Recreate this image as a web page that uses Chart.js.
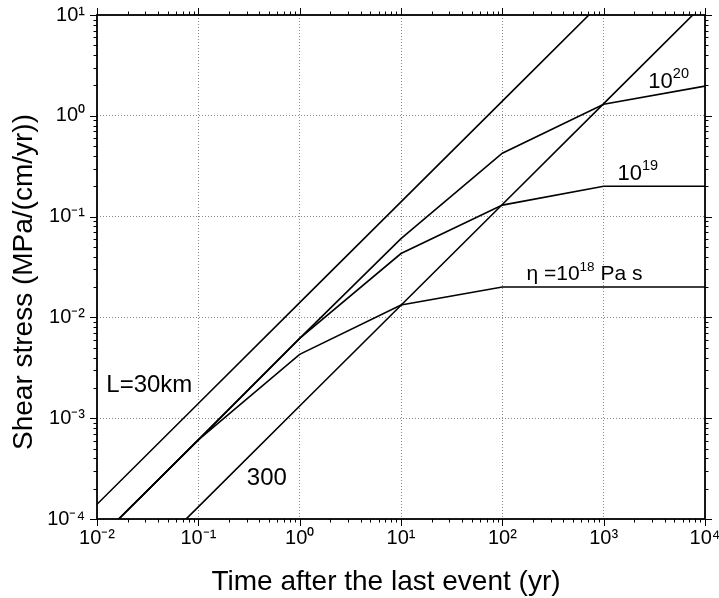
<!DOCTYPE html>
<html><head><meta charset="utf-8">
<script src="https://cdn.jsdelivr.net/npm/chart.js@4.4.0/dist/chart.umd.min.js"></script>
<style>html,body{margin:0;padding:0;background:#fff}canvas{display:block}</style>
</head><body>
<canvas id="c" width="719" height="598"></canvas>
<script>
// ---- data ----
const times       = [0.01, 0.1, 1, 10, 100, 1000, 10000];
const elasticL30  = [1.4e-4, 1.4e-3, 1.4e-2, 0.14, 1.4, 14, 140];
const elasticL300 = [1.32e-5, 1.32e-4, 1.32e-3, 1.32e-2, 0.132, 1.32, 13.2];
const eta18 = [6.1e-5, 6.1e-4, 4.3e-3, 1.33e-2, 2.0e-2, 2.0e-2, 2.0e-2];
const eta19 = [6.1e-5, 6.1e-4, 6.2e-3, 4.3e-2, 0.13, 0.2, 0.2];
const eta20 = [6.1e-5, 6.1e-4, 6.2e-3, 6.05e-2, 0.425, 1.3, 1.97];
const xTicks = [1e-2, 1e-1, 1, 1e1, 1e2, 1e3, 1e4];
const yTicks = [1e-4, 1e-3, 1e-2, 1e-1, 1, 1e1];
const xTitle = 'Time after the last event (yr)';
const yTitle = 'Shear stress (MPa/(cm/yr))';
const labelTexts = [
  {pre: 'L=30km', sup: '', post: '', t: 0.01235, v: 1.83e-3, size: 24},
  {pre: '300', sup: '', post: '', t: 0.301, v: 2.19e-4, size: 24},
  {pre: '\u03B7 =10', sup: '18', post: ' Pa s', t: 173, v: 0.0237, size: 21, supSize: 13.5, raise: 9},
  {pre: '10', sup: '19', post: '', t: 1368, v: 0.232, size: 22, supSize: 14.5, raise: 10},
  {pre: '10', sup: '20', post: '', t: 2761, v: 1.90, size: 22, supSize: 14.5, raise: 10}
];

const FONT = "'Liberation Sans', Arial, Helvetica, sans-serif";
const SUP = {'-':'\u207B','0':'\u2070','1':'\u00B9','2':'\u00B2','3':'\u00B3','4':'\u2074','5':'\u2075','6':'\u2076','7':'\u2077','8':'\u2078','9':'\u2079'};
function pow10Label(v) {
  const e = Math.round(Math.log10(v));
  return '10' + String(e).split('').map(c => SUP[c]).join('');
}
function series(ys) { return times.map((t, i) => ({x: t, y: ys[i]})); }
function ds(ys) {
  return {data: series(ys), showLine: true, borderColor: '#000', borderWidth: 1.6,
          pointRadius: 0, fill: false, tension: 0};
}
function noPad(s) { s.paddingLeft = 0; s.paddingRight = 0; s.paddingTop = 0; s.paddingBottom = 0; }

const frameTicks = {
  id: 'frameTicks',
  afterDatasetsDraw(chart) {
    const ctx = chart.ctx, a = chart.chartArea;
    const xs = chart.scales.x, ys = chart.scales.y;
    ctx.save();
    ctx.strokeStyle = '#000';
    ctx.lineWidth = 1;
    for (let d = 0; d < xTicks.length; d++) {
      const dec = xTicks[d];
      for (let k = 1; k <= 9; k++) {
        const v = dec * k;
        const p = Math.round(xs.getPixelForValue(v)) + 0.5;
        const len = k === 1 ? 7 : 3.5;
        ctx.beginPath();
        ctx.moveTo(p, a.bottom); ctx.lineTo(p, a.bottom + len);
        ctx.moveTo(p, a.top); ctx.lineTo(p, a.top - len);
        ctx.stroke();
        if (d === xTicks.length - 1) break;
      }
    }
    for (let d = 0; d < yTicks.length; d++) {
      const dec = yTicks[d];
      for (let k = 1; k <= 9; k++) {
        const v = dec * k;
        const p = Math.round(ys.getPixelForValue(v)) + 0.5;
        const len = k === 1 ? 7 : 3.5;
        ctx.beginPath();
        ctx.moveTo(a.left, p); ctx.lineTo(a.left - len, p);
        ctx.moveTo(a.right, p); ctx.lineTo(a.right + len, p);
        ctx.stroke();
        if (d === yTicks.length - 1) break;
      }
    }
    ctx.lineWidth = 1.8;
    ctx.strokeRect(a.left, a.top, a.right - a.left, a.bottom - a.top);
    ctx.fillStyle = '#000';
    ctx.textAlign = 'left';
    ctx.textBaseline = 'alphabetic';
    labelTexts.forEach(l => {
      let x = xs.getPixelForValue(l.t);
      const y = ys.getPixelForValue(l.v);
      ctx.font = l.size + 'px ' + FONT;
      ctx.fillText(l.pre, x, y);
      x += ctx.measureText(l.pre).width;
      if (l.sup) {
        ctx.font = l.supSize + 'px ' + FONT;
        ctx.fillText(l.sup, x, y - l.raise);
        x += ctx.measureText(l.sup).width;
      }
      if (l.post) {
        ctx.font = l.size + 'px ' + FONT;
        ctx.fillText(l.post, x, y);
      }
    });
    ctx.font = '28px ' + FONT;
    ctx.textAlign = 'center';
    ctx.fillText(xTitle, 386, 590);
    ctx.translate(32, 282);
    ctx.rotate(-Math.PI / 2);
    ctx.fillText(yTitle, 0, 0);
    ctx.restore();
  }
};

new Chart(document.getElementById('c'), {
  type: 'scatter',
  data: {datasets: [ds(elasticL30), ds(elasticL300), ds(eta18), ds(eta19), ds(eta20)]},
  options: {
    responsive: false,
    animation: false,
    devicePixelRatio: 1,
    layout: {padding: {top: 15, right: 14, left: 0, bottom: 0}},
    plugins: {legend: {display: false}, tooltip: {enabled: false}},
    scales: {
      x: {
        type: 'logarithmic', min: 1e-2, max: 1e4,
        afterBuildTicks: s => { s.ticks = xTicks.map(v => ({value: v})); },
        afterFit: s => { s.height = 79; noPad(s); },
        ticks: {callback: v => pow10Label(v), color: '#000', font: {family: FONT, size: 20},
                padding: 7, autoSkip: false, maxRotation: 0},
        grid: {color: '#8a8a8a', lineWidth: 1, drawTicks: false},
        border: {display: false, dash: [1, 2]}
      },
      y: {
        type: 'logarithmic', min: 1e-4, max: 1e1,
        afterBuildTicks: s => { s.ticks = yTicks.map(v => ({value: v})); },
        afterFit: s => { s.width = 97; noPad(s); },
        ticks: {callback: v => pow10Label(v), color: '#000', font: {family: FONT, size: 20},
                padding: 12, autoSkip: false},
        grid: {color: '#8a8a8a', lineWidth: 1, drawTicks: false},
        border: {display: false, dash: [1, 2]}
      }
    }
  },
  plugins: [frameTicks]
});
</script>
</body></html>
